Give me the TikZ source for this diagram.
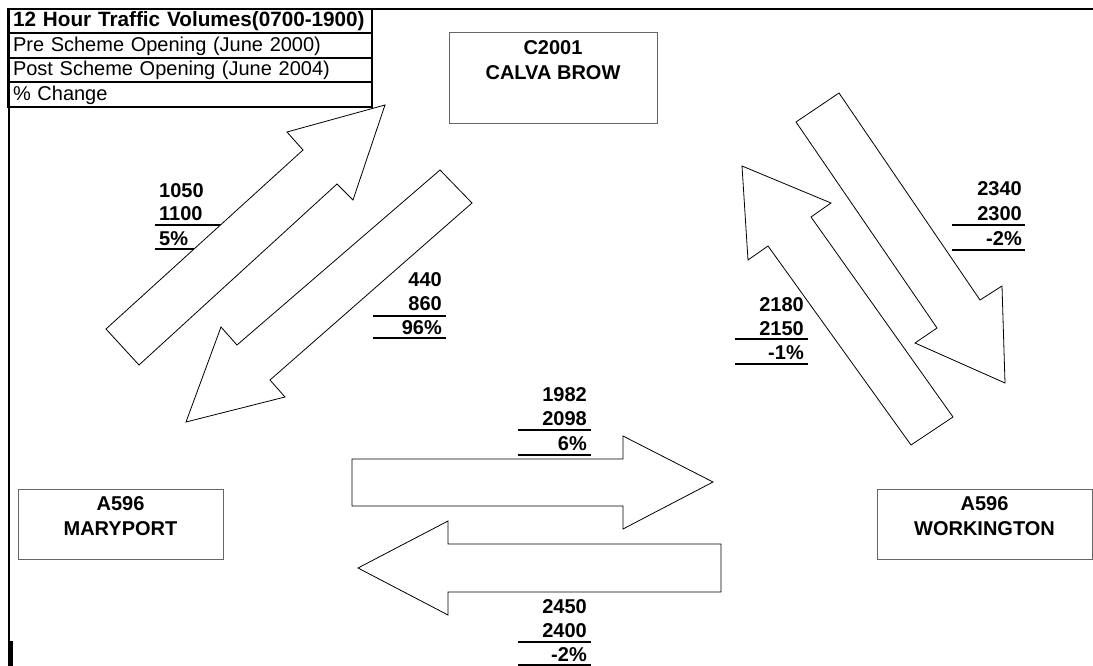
\documentclass[tikz,border=0pt]{standalone}
\usepackage{fontspec}
\setmainfont{Liberation Sans}
\usetikzlibrary{positioning}

\begin{document}
\begin{tikzpicture}[x=1pt,y=-1pt,
 leg/.style={draw,line width=2pt,outer sep=0pt,minimum width=364pt,minimum height=24.5pt,
  text width=354pt,inner xsep=5pt,inner ysep=0pt,align=left,text height=15pt,text depth=4pt,
  font=\fontsize{20}{24}\selectfont},
 place/.style={draw=black!60,line width=1pt,inner sep=0pt},
 ptxt/.style={font=\bfseries\fontsize{20}{25}\selectfont,align=center,inner sep=0pt},
 num/.style={font=\bfseries\fontsize{20}{24}\selectfont,inner sep=0pt,anchor=base east},
 rule/.style={line width=2pt},
 flow/.style={draw,fill=white,line width=0.8pt,line join=miter}]
\useasboundingbox (0,0) rectangle (1093,666);
\draw[line width=2.5pt] (8,9) -- (1093,9);
\draw[line width=2pt] (9,8) -- (9,666);
\fill (8,641) rectangle (13,666);

\node[leg,font=\bfseries\fontsize{20.7}{24}\selectfont] (title) at (190,21.25) {12 Hour Traffic Volumes(0700-1900)};
\node[leg,below=0pt of title] (pre) {Pre Scheme Opening (June 2000)};
\node[leg,below=0pt of pre] (post) {Post Scheme Opening (June 2004)};
\node[leg,below=0pt of post] (pct) {\% Change};

\node[place,minimum width=208pt,minimum height=91pt] (calva) at (553,78.5) {};
\node[ptxt,below=8pt of calva.north] (calvatxt) {C2001\\CALVA BROW};
\node[place,minimum width=205pt,minimum height=70pt] (mary) at (120.5,524) {};
\node[ptxt,below=8pt of mary.north] (marytxt) {A596\\MARYPORT};
\node[place,minimum width=215pt,minimum height=70pt] (work) at (984.5,524) {};
\node[ptxt,below=8pt of work.north] (worktxt) {A596\\WORKINGTON};

\node[num,anchor=base west] (mc1) at (159,197) {1050};
\node[num,anchor=base west] (mc2) at (159,220) {1100};
\node[num,anchor=base west] (mc3) at (159,245) {5\%};
\draw[rule] (155,225) -- (228,225) (155,249) -- (228,249);

\node[num] (cm1) at (442,286) {440};
\node[num] (cm2) at (442,310) {860};
\node[num] (cm3) at (442,334) {96\%};
\draw[rule] (373,316) -- (446,316) (373,338) -- (446,338);

\node[num] (cw1) at (1022,196) {2340};
\node[num] (cw2) at (1022,220) {2300};
\node[num] (cw3) at (1022,245) {-2\%};
\draw[rule] (952,225) -- (1025,225) (952,250) -- (1025,250);

\node[num] (wc1) at (804,311) {2180};
\node[num] (wc2) at (804,335) {2150};
\node[num] (wc3) at (804,359) {-1\%};
\draw[rule] (735,339) -- (808,339) (735,364) -- (808,364);

\node[num] (mw1) at (587,401) {1982};
\node[num] (mw2) at (587,425) {2098};
\node[num] (mw3) at (587,450) {6\%};
\draw[rule] (518,430) -- (591,430) (518,455) -- (591,455);

\node[num] (wm1) at (587,613) {2450};
\node[num] (wm2) at (587,637) {2400};
\node[num] (wm3) at (587,661) {-2\%};
\draw[rule] (518,642) -- (591,642) (518,665) -- (591,665);

\draw[flow] (106,329) -- (303,150) -- (287,132) -- (385,105) -- (353,200) -- (337,184) -- (139,365) -- cycle;
\draw[flow] (440,170) -- (237,345) -- (221,327) -- (186,422) -- (285,397) -- (270,380) -- (472,203) -- cycle;
\draw[flow] (742,166) -- (831,203) -- (811,217) -- (953,417) -- (911,445) -- (768,246) -- (748,260) -- cycle;
\draw[flow] (796,122) -- (839,93) -- (980,300) -- (1002,286) -- (1005,383) -- (915,343) -- (937,328) -- cycle;
\draw[flow] (352,459) -- (623,459) -- (623,436) -- (713,482) -- (623,529) -- (623,506) -- (352,506) -- cycle;
\draw[flow] (358,568) -- (448,521) -- (448,544) -- (721,544) -- (721,592) -- (448,592) -- (448,615) -- cycle;
\end{tikzpicture}
\end{document}
